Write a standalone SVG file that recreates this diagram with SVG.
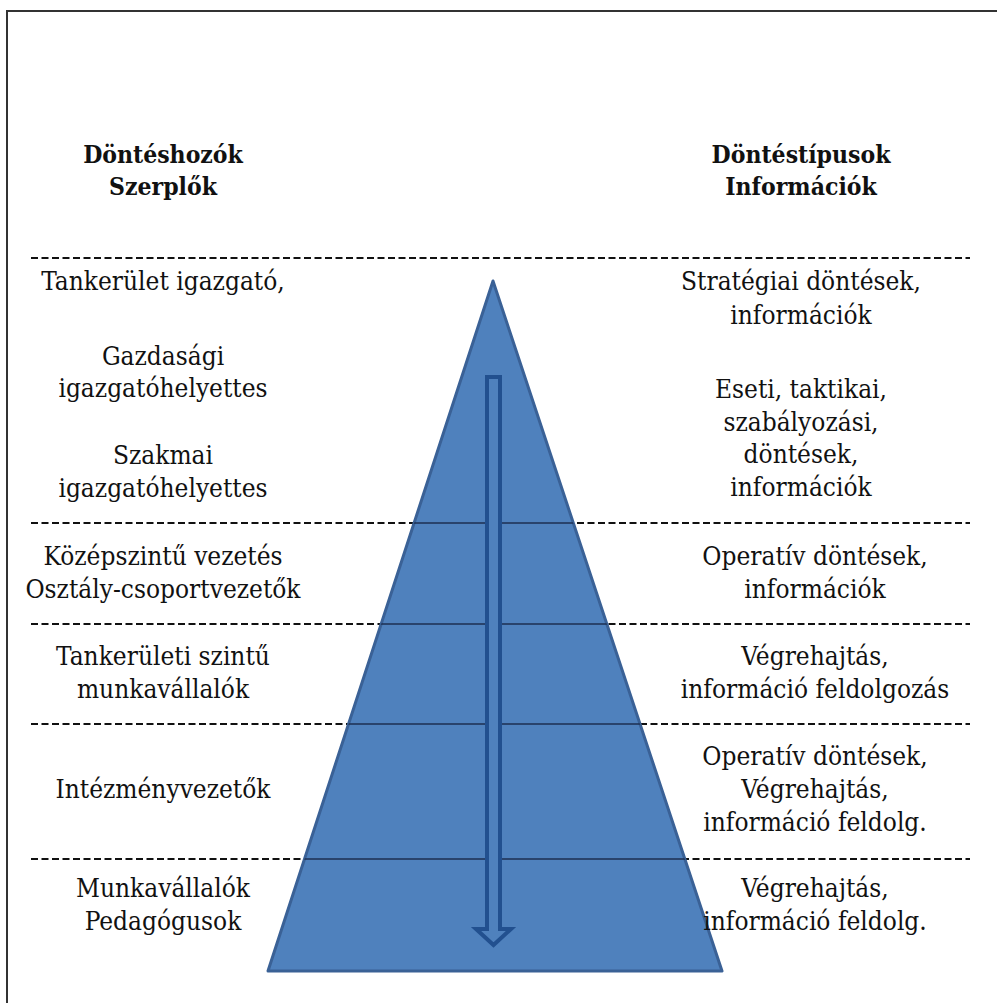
<svg xmlns="http://www.w3.org/2000/svg" width="997" height="1003" viewBox="0 0 997 1003">
  <defs>
    <style>
      .t { font-size: 26px; fill: #111; text-anchor: middle; font-stretch: condensed; }
      .h { font-size: 24.5px; font-weight: bold; fill: #111; text-anchor: middle; font-stretch: condensed; }
      .dash { stroke: #111; stroke-width: 2; stroke-dasharray: 7 3.5; fill: none; }
      .solid { stroke: #1c2f52; stroke-width: 1.5; fill: none; }
    </style>
    <clipPath id="triClip">
      <polygon points="493,281 722,971 268,971"/>
    </clipPath>
  </defs>
  <rect x="0" y="0" width="997" height="1003" fill="#ffffff"/>
  <rect id="frame" x="7" y="11" width="1000" height="1000" fill="none" stroke="#333" stroke-width="2"/>

  <g id="separators">
    <line class="dash" x1="31" y1="258" x2="970" y2="258"/>
    <line class="dash" x1="31" y1="523" x2="970" y2="523"/>
    <line class="dash" x1="31" y1="624" x2="970" y2="624"/>
    <line class="dash" x1="31" y1="724" x2="970" y2="724"/>
    <line class="dash" x1="31" y1="859" x2="970" y2="859"/>
  </g>

  <g id="pyramid">
    <polygon points="493,281 722,971 268,971" fill="#4f81bd" stroke="#3a6196" stroke-width="3" stroke-linejoin="round"/>
    <g clip-path="url(#triClip)">
      <line class="solid" x1="250" y1="523" x2="740" y2="523"/>
      <line class="solid" x1="250" y1="624" x2="740" y2="624"/>
      <line class="solid" x1="250" y1="724" x2="740" y2="724"/>
      <line class="solid" x1="250" y1="859" x2="740" y2="859"/>
    </g>
  </g>

  <g id="connectors">
    <polygon id="flow-arrow" points="487,377 500,377 500,929 511,929 493.5,945 476,929 487,929" fill="#4f81bd" stroke="#22508f" stroke-width="4" stroke-linejoin="miter"/>
  </g>

  <g id="labels" font-family="DejaVu Serif Condensed, DejaVu Serif, serif">
  <g id="head-left">
    <text class="h" x="163" y="163">Döntéshozók</text>
    <text class="h" x="163" y="195">Szerplők</text>
  </g>
  <g id="head-right">
    <text class="h" x="801" y="163">Döntéstípusok</text>
    <text class="h" x="801" y="195">Információk</text>
  </g>

  <g id="left-1">
    <text class="t" x="163" y="290">Tankerület igazgató,</text>
  </g>
  <g id="left-2">
    <text class="t" x="163" y="365">Gazdasági</text>
    <text class="t" x="163" y="397">igazgatóhelyettes</text>
  </g>
  <g id="left-3">
    <text class="t" x="163" y="464">Szakmai</text>
    <text class="t" x="163" y="497">igazgatóhelyettes</text>
  </g>
  <g id="left-4">
    <text class="t" x="163" y="565">Középszintű vezetés</text>
    <text class="t" x="163" y="598">Osztály-csoportvezetők</text>
  </g>
  <g id="left-5">
    <text class="t" x="163" y="665">Tankerületi szintű</text>
    <text class="t" x="163" y="698">munkavállalók</text>
  </g>
  <g id="left-6">
    <text class="t" x="163" y="798">Intézményvezetők</text>
  </g>
  <g id="left-7">
    <text class="t" x="163" y="897">Munkavállalók</text>
    <text class="t" x="163" y="930">Pedagógusok</text>
  </g>

  <g id="right-1">
    <text class="t" x="801" y="290">Stratégiai döntések,</text>
    <text class="t" x="801" y="324">információk</text>
  </g>
  <g id="right-2">
    <text class="t" x="801" y="398">Eseti, taktikai,</text>
    <text class="t" x="801" y="431">szabályozási,</text>
    <text class="t" x="801" y="463">döntések,</text>
    <text class="t" x="801" y="496">információk</text>
  </g>
  <g id="right-3">
    <text class="t" x="815" y="565">Operatív döntések,</text>
    <text class="t" x="815" y="598">információk</text>
  </g>
  <g id="right-4">
    <text class="t" x="815" y="665">Végrehajtás,</text>
    <text class="t" x="815" y="698">információ feldolgozás</text>
  </g>
  <g id="right-5">
    <text class="t" x="815" y="765">Operatív döntések,</text>
    <text class="t" x="815" y="798">Végrehajtás,</text>
    <text class="t" x="815" y="831">információ feldolg.</text>
  </g>
  <g id="right-6">
    <text class="t" x="815" y="897">Végrehajtás,</text>
    <text class="t" x="815" y="930">információ feldolg.</text>
  </g>
  </g>
</svg>
